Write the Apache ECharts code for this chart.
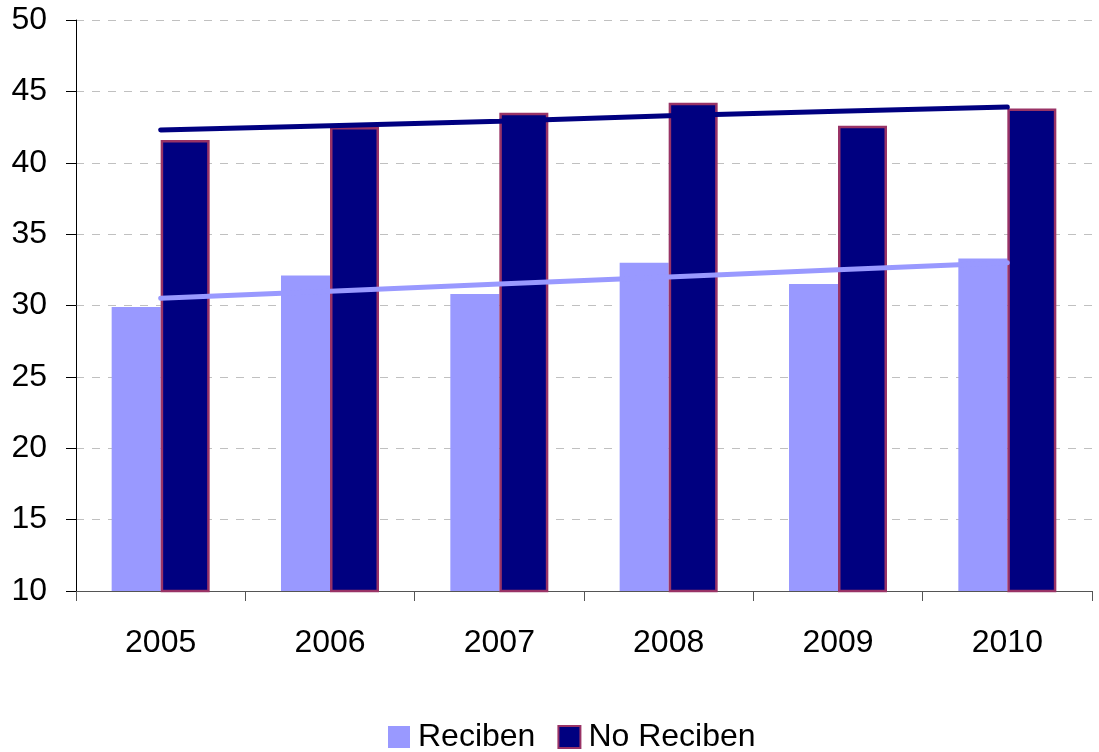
<!DOCTYPE html>
<html>
<head>
<meta charset="utf-8">
<script src="https://cdn.jsdelivr.net/npm/echarts@6/dist/echarts.min.js"></script>
<style>
  html, body { margin: 0; padding: 0; background: #fff; }
  #chart { width: 1099px; height: 752px; }
</style>
</head>
<body>
<div id="chart"></div>
<script>
const years = ['2005', '2006', '2007', '2008', '2009', '2010']
const reciben = [29.9, 32.1, 30.8, 33.0, 31.5, 33.3]
const noReciben = [41.6, 42.5, 43.5, 44.2, 42.6, 43.8]
// trend lines
const recibenTrend = [30.5, 31.0, 31.5, 32.0, 32.5, 33.0]
const noRecibenTrend = [42.3, 42.6, 42.9, 43.3, 43.6, 43.9]

const font = 'Liberation Sans'
const chart = echarts.init(document.getElementById('chart'))
const option = {
  animation: false,
  backgroundColor: '#fff',
  grid: {
    left: 76,
    right: 7,
    top: 20,
    bottom: 161
  },
  legend: {
    data: ['Reciben', 'No Reciben'],
    top: 716,
    left: 383,
    itemWidth: 22,
    itemHeight: 22,
    itemGap: 22,
    icon: 'rect',
    textStyle: {
      fontFamily: font,
      fontSize: 32,
      color: '#000',
      padding: [0, 0, 0, 3]
    }
  },
  xAxis: {
    type: 'category',
    data: years,
    boundaryGap: true,
    axisLine: { lineStyle: { color: '#555', width: 1 } },
    axisTick: { show: true, length: 10, lineStyle: { color: '#555' } },
    axisLabel: {
      fontFamily: font,
      fontSize: 32,
      color: '#000',
      margin: 36
    }
  },
  yAxis: {
    type: 'value',
    min: 10,
    max: 50,
    interval: 5,
    axisLine: { show: true, lineStyle: { color: '#000', width: 1 } },
    axisTick: { show: true, length: 10, lineStyle: { color: '#000' } },
    axisLabel: {
      fontFamily: font,
      fontSize: 32,
      color: '#000',
      margin: 29
    },
    splitLine: {
      lineStyle: { color: '#c0c0c0', type: [8, 8], width: 1 }
    }
  },
  series: [
    {
      name: 'Reciben',
      type: 'bar',
      data: reciben,
      barWidth: 49,
      barGap: '0%',
      itemStyle: { color: '#9999ff' }
    },
    {
      name: 'No Reciben',
      type: 'bar',
      data: noReciben,
      barWidth: 49,
      barGap: '0%',
      itemStyle: { color: '#000080', borderColor: '#993366', borderWidth: 2.5 }
    },
    {
      name: 'Tendencia Reciben',
      type: 'line',
      data: recibenTrend,
      showSymbol: false,
      z: 5,
      lineStyle: { color: '#9999ff', width: 5, cap: 'round' }
    },
    {
      name: 'Tendencia No Reciben',
      type: 'line',
      data: noRecibenTrend,
      showSymbol: false,
      z: 5,
      lineStyle: { color: '#000080', width: 5, cap: 'round' }
    }
  ]
}
chart.setOption(option)
</script>
</body>
</html>
